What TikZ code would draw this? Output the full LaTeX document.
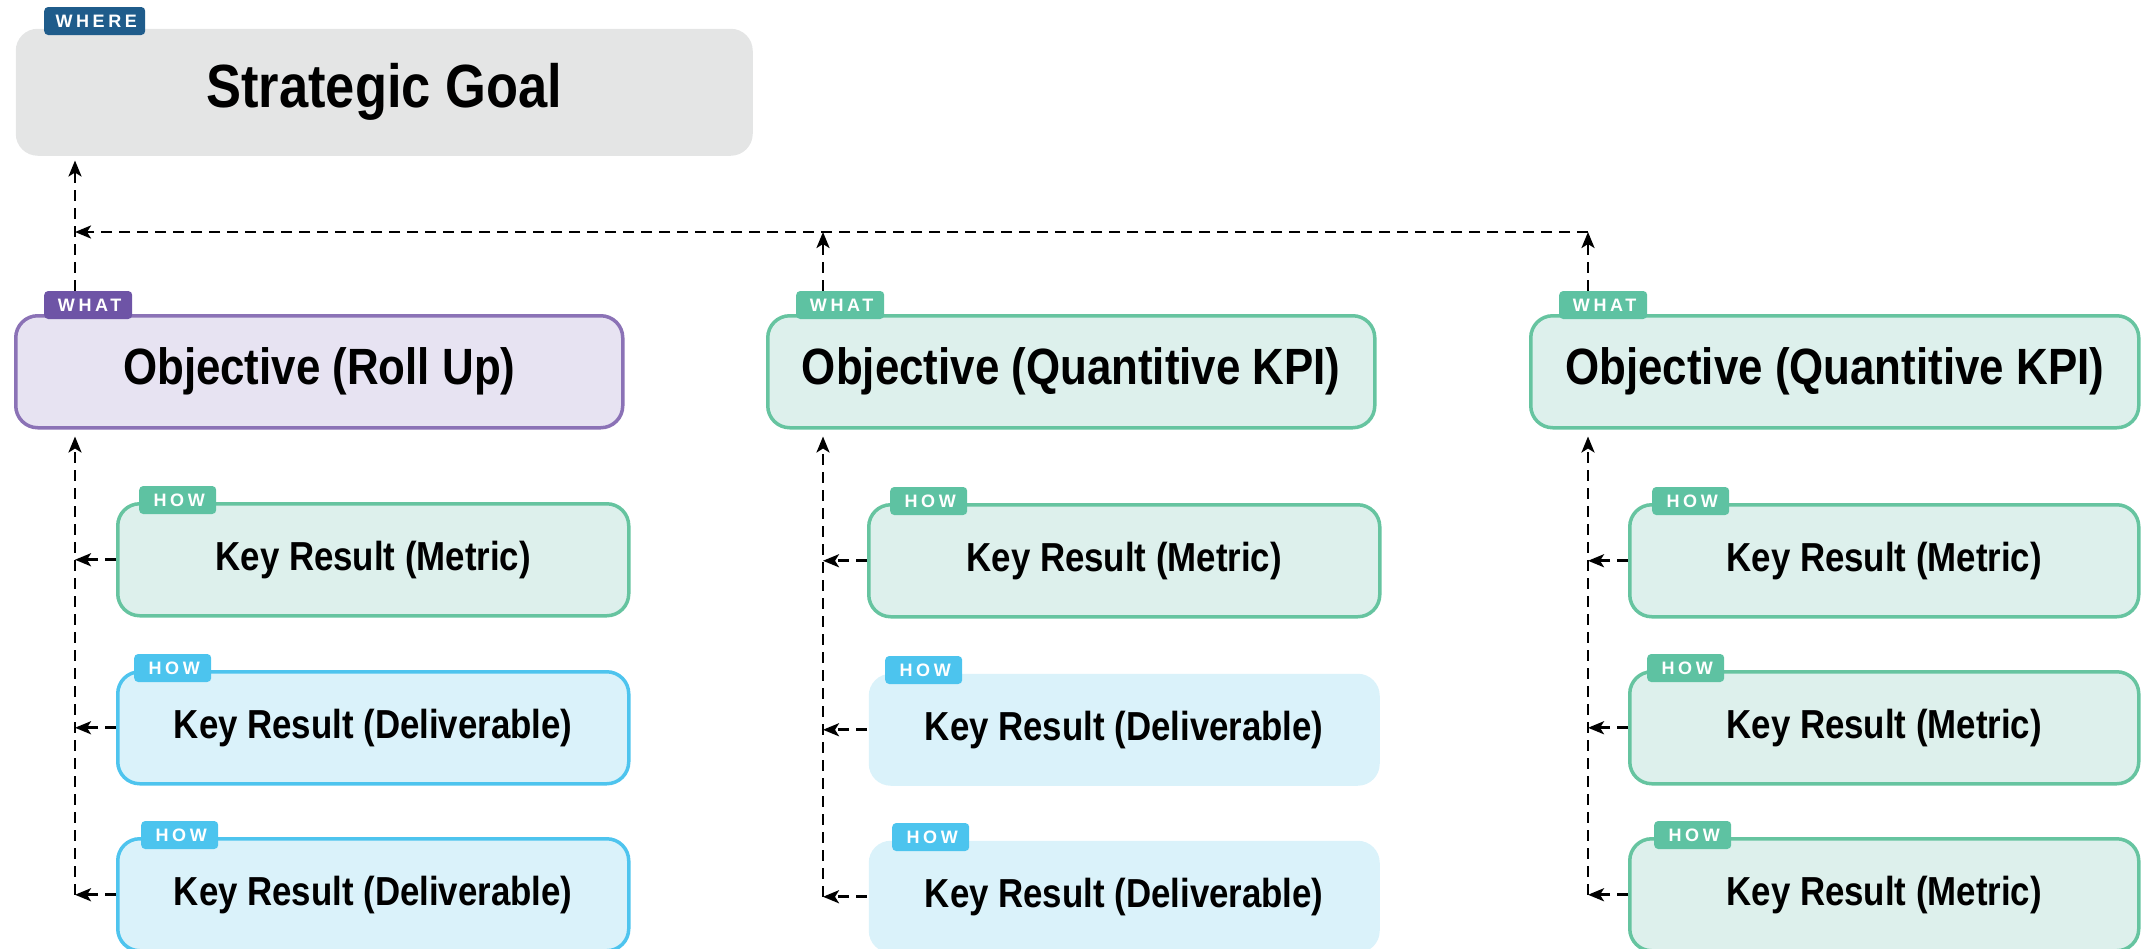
\documentclass[tikz,border=0pt]{standalone}
\usepackage{fontspec}
\setmainfont{Liberation Sans}[FakeStretch=0.86]
\newfontfamily\tagfont{Liberation Sans}[LetterSpace=20]
\usetikzlibrary{arrows.meta,calc}
\definecolor{goalgray}{HTML}{E4E5E5}
\definecolor{wherecol}{HTML}{1F5C8B}
\definecolor{purpfill}{HTML}{E7E3F2}
\definecolor{purpline}{HTML}{8B72B6}
\definecolor{purptag}{HTML}{6E54A6}
\definecolor{grnfill}{HTML}{DDF0EC}
\definecolor{grnline}{HTML}{66C4A0}
\definecolor{grntag}{HTML}{5EC2A2}
\definecolor{blufill}{HTML}{DAF2FA}
\definecolor{bluline}{HTML}{4EC4EE}
\definecolor{blutag}{HTML}{4CC4EE}
\begin{document}
\begin{tikzpicture}[x=1pt,y=-1pt,
  box/.style={anchor=north west, rounded corners=22pt, line width=3.5pt, align=center, inner sep=0pt},
  goalbox/.style={box, fill=goalgray, minimum width=737pt, minimum height=127pt, font=\bfseries\fontsize{61}{70}\selectfont},
  objbox/.style={box, minimum width=607pt, minimum height=112pt, font=\bfseries\fontsize{51}{60}\selectfont},
  krbox/.style={box, minimum width=511pt, minimum height=112pt, font=\bfseries\fontsize{40.5}{48}\selectfont},
  purp/.style={draw=purpline, fill=purpfill},
  grn/.style={draw=grnline, fill=grnfill},
  blu/.style={draw=bluline, fill=blufill},
  blunb/.style={fill=blufill},
  tagbox/.style={anchor=west, rounded corners=4pt, inner sep=0pt, minimum height=28pt, text=white, font=\tagfont\bfseries\fontsize{18}{20}\selectfont},
  wheretag/.style={tagbox, fill=wherecol, minimum width=101pt},
  whattag/.style={tagbox, minimum width=88pt},
  howtag/.style={tagbox, minimum width=77pt},
  dl/.style={draw=black, line width=2.6pt, dash pattern=on 11pt off 7pt, -{Stealth[length=16pt,width=13pt,inset=4pt]}}
]
\useasboundingbox (0,0) rectangle (2141,948);

% goal
\node[goalbox] (goal) at (14,27) {Strategic Goal};
\node[wheretag] (wh) at ([xshift=30pt,yshift=6pt]goal.north west) {\hspace{3pt}WHERE};

% objectives
\node[objbox, purp] (o1) at (14,314) {Objective (Roll Up)};
\node[objbox, grn] (o2) at (766,314) {Objective (Quantitive KPI)};
\node[objbox, grn, minimum width=608pt] (o3) at (1529,314) {Objective (Quantitive KPI)};
\node[whattag, fill=purptag] (wt1) at ([xshift=30pt,yshift=9pt]o1.north west) {\hspace{3pt}WHAT};
\node[whattag, fill=grntag] (wt2) at ([xshift=30pt,yshift=9pt]o2.north west) {\hspace{3pt}WHAT};
\node[whattag, fill=grntag] (wt3) at ([xshift=30pt,yshift=9pt]o3.north west) {\hspace{3pt}WHAT};

% key results column 1
\node[krbox, grn] (k11) at (116,502) {Key Result (Metric)};
\node[krbox, blu] (k12) at (116,670) {Key Result (Deliverable)};
\node[krbox, blu] (k13) at (116,837) {Key Result (Deliverable)};
% column 2
\node[krbox, grn] (k21) at (867,503) {Key Result (Metric)};
\node[krbox, blunb] (k22) at (867,672) {Key Result (Deliverable)};
\node[krbox, blunb] (k23) at (867,839) {Key Result (Deliverable)};
% column 3
\node[krbox, grn, minimum width=509pt] (k31) at (1628,503) {Key Result (Metric)};
\node[krbox, grn, minimum width=509pt] (k32) at (1628,670) {Key Result (Metric)};
\node[krbox, grn, minimum width=509pt] (k33) at (1628,837) {Key Result (Metric)};

\node[howtag, fill=grntag] (h11) at ([xshift=23pt,yshift=2pt]k11.north west) {\hspace{3pt}HOW};
\node[howtag, fill=blutag] (h12) at ([xshift=18pt,yshift=2pt]k12.north west) {\hspace{3pt}HOW};
\node[howtag, fill=blutag] (h13) at ([xshift=25pt,yshift=2pt]k13.north west) {\hspace{3pt}HOW};
\node[howtag, fill=grntag] (h21) at ([xshift=23pt,yshift=2pt]k21.north west) {\hspace{3pt}HOW};
\node[howtag, fill=blutag] (h22) at ([xshift=18pt,yshift=2pt]k22.north west) {\hspace{3pt}HOW};
\node[howtag, fill=blutag] (h23) at ([xshift=25pt,yshift=2pt]k23.north west) {\hspace{3pt}HOW};
\node[howtag, fill=grntag] (h31) at ([xshift=24pt,yshift=2pt]k31.north west) {\hspace{3pt}HOW};
\node[howtag, fill=grntag] (h32) at ([xshift=19pt,yshift=2pt]k32.north west) {\hspace{3pt}HOW};
\node[howtag, fill=grntag] (h33) at ([xshift=26pt,yshift=2pt]k33.north west) {\hspace{3pt}HOW};

% junctions
\coordinate (j1) at (75,232);
\coordinate (j2) at (823,232);
\coordinate (j3) at (1588,232);

% upper connectors
\draw[dl, shorten >=3pt] (wt1.north -| j1) -- (goal.south -| j1);
\draw[dl] (j3) -- (j1);
\draw[dl] (wt2.north -| j2) -- (j2);
\draw[dl] (wt3.north -| j3) -- (j3);

% lower connectors
\coordinate (b1) at (k13.west -| j1);
\coordinate (b2) at (k23.west -| j2);
\coordinate (b3) at (k33.west -| j3);
\draw[dl, shorten >=7pt] (b1) -- (o1.south -| j1);
\draw[dl, shorten >=7pt] (b2) -- (o2.south -| j2);
\draw[dl, shorten >=7pt] (b3) -- (o3.south -| j3);
\foreach \c in {1,2,3}{
  \foreach \r in {1,2,3}{
    \draw[dl] (k\c\r.west) -- (k\c\r.west -| j\c);
  }
}
\end{tikzpicture}
\end{document}
